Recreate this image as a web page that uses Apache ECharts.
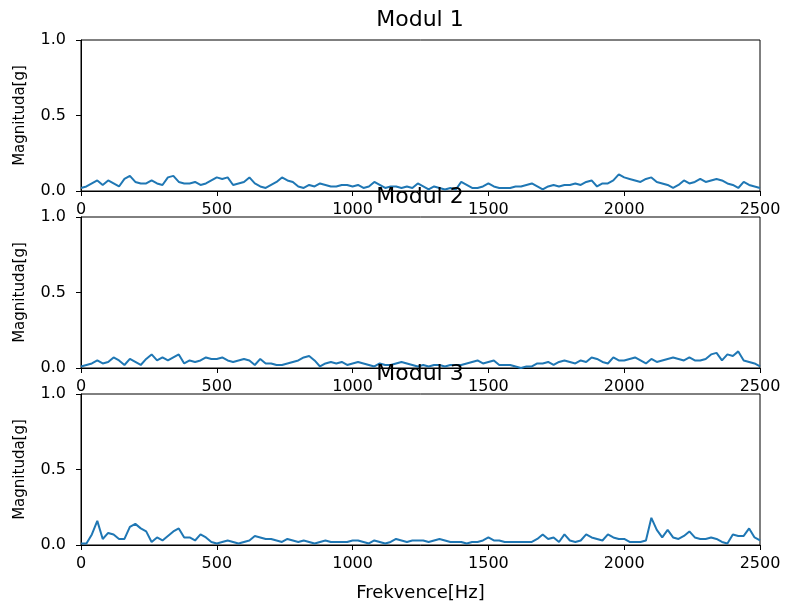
<!DOCTYPE html>
<html>
<head>
<meta charset="utf-8">
<title>Modul 1-3</title>
<script src="https://cdn.jsdelivr.net/npm/echarts@6/dist/echarts.min.js"></script>
<style>
	html, body {margin: 0; padding: 0; background: #fff;}
	#result {width: 785px; height: 607px;}
</style>
</head>
<body>
<div id="result"></div>
<script>
// spectrum step in Hz, values every 20 Hz from 0 to 2500
var freqStep = 20;
var freqMax = 2500;
var xTicks = [0, 500, 1000, 1500, 2000, 2500];
var yTicks = [0.0, 0.5, 1.0];
var titles = ['Modul 1', 'Modul 2', 'Modul 3'];

var modul1 = [0.02,0.03,0.05,0.07,0.04,0.07,0.05,0.03,0.08,0.10,
	0.06,0.05,0.05,0.07,0.05,0.04,0.09,0.10,0.06,0.05,
	0.05,0.06,0.04,0.05,0.07,0.09,0.08,0.09,0.04,0.05,
	0.06,0.09,0.05,0.03,0.02,0.04,0.06,0.09,0.07,0.06,
	0.03,0.02,0.04,0.03,0.05,0.04,0.03,0.03,0.04,0.04,
	0.03,0.04,0.02,0.03,0.06,0.04,0.02,0.03,0.03,0.02,
	0.03,0.02,0.05,
	0.03,0.01,0.03,0.02,0.01,0.02,0.01,0.06,0.04,0.02,
	0.02,0.03,0.05,0.03,0.02,0.02,0.02,0.03,0.03,0.04,
	0.05,0.03,0.01,0.03,0.04,0.03,0.04,0.04,0.05,0.04,
	0.06,0.07,0.03,0.05,0.05,0.07,0.11,0.09,0.08,0.07,
	0.06,0.08,0.09,0.06,0.05,0.04,0.02,0.04,0.07,0.05,
	0.06,0.08,0.06,0.07,0.08,0.07,0.05,0.04,0.02,0.06,
	0.04,0.03,0.02];

var modul2 = [0.01,0.02,0.03,0.05,0.03,0.04,0.07,0.05,0.02,0.06,
	0.04,0.02,0.06,0.09,0.05,0.07,0.05,0.07,0.09,0.03,
	0.05,0.04,0.05,0.07,0.06,0.06,0.07,0.05,0.04,0.05,
	0.06,0.05,0.02,0.06,0.03,0.03,0.02,0.02,0.03,0.04,
	0.05,0.07,0.08,0.05,0.01,0.03,0.04,0.03,0.04,0.02,
	0.03,0.04,0.03,0.02,0.01,0.03,0.02,0.02,0.03,0.04,
	0.03,0.02,0.01,
	0.02,0.01,0.02,0.02,0.01,0.02,0.02,0.02,0.03,0.04,
	0.05,0.03,0.04,0.05,0.02,0.02,0.02,0.01,0.00,0.01,
	0.01,0.03,0.03,0.04,0.02,0.04,0.05,0.04,0.03,0.05,
	0.04,0.07,0.06,0.04,0.03,0.07,0.05,0.05,0.06,0.07,
	0.05,0.03,0.06,0.04,0.05,0.06,0.07,0.06,0.05,0.07,
	0.05,0.05,0.06,0.09,0.10,0.05,0.09,0.08,0.11,0.05,
	0.04,0.03,0.01];

var modul3 = [0.01,0.01,0.07,0.16,0.04,0.08,0.07,0.04,0.04,0.12,
	0.14,0.11,0.09,0.02,0.05,0.03,0.06,0.09,0.11,0.05,
	0.05,0.03,0.07,0.05,0.02,0.01,0.02,0.03,0.02,0.01,
	0.02,0.03,0.06,0.05,0.04,0.04,0.03,0.02,0.04,0.03,
	0.02,0.03,0.02,0.01,0.02,0.03,0.02,0.02,0.02,0.02,
	0.03,0.03,0.02,0.01,0.03,0.02,0.01,0.02,0.04,0.03,
	0.02,0.03,0.03,
	0.03,0.02,0.03,0.04,0.03,0.02,0.02,0.02,0.01,0.02,
	0.02,0.03,0.05,0.03,0.03,0.02,0.02,0.02,0.02,0.02,
	0.02,0.04,0.07,0.04,0.05,0.02,0.07,0.03,0.02,0.03,
	0.07,0.05,0.04,0.03,0.07,0.05,0.04,0.04,0.02,0.02,
	0.02,0.03,0.18,0.10,0.05,0.10,0.05,0.04,0.06,0.09,
	0.05,0.04,0.04,0.05,0.04,0.02,0.01,0.07,0.06,0.06,
	0.11,0.05,0.03];

var moduls = [modul1, modul2, modul3];

// subplot boxes (px)
var gridLeft = 81, gridRight = 25, gridHeight = 151;
var gridTops = [40, 217, 394];
var lineColor = '#1f77b4';
var font = 'DejaVu Sans';

function toPairs(values){
	var out = [];
	for (var i = 0; i < values.length; i++){
		out.push([i * freqStep, values[i]]);
	}
	return out;
}

var grids = [], xAxes = [], yAxes = [], series = [], titleList = [];
for (var k = 0; k < 3; k++){
	grids.push({
		left: gridLeft, right: gridRight, top: gridTops[k], height: gridHeight,
		show: true, borderColor: '#000', borderWidth: 1, backgroundColor: 'transparent'
	});
	xAxes.push({
		gridIndex: k, type: 'value',
		min: xTicks[0], max: freqMax, interval: xTicks[1] - xTicks[0],
		axisLine: {show: true, lineStyle: {color: '#000', width: 1}},
		axisTick: {show: true, length: 5, lineStyle: {color: '#000'}},
		axisLabel: {color: '#000', fontSize: 16, fontFamily: font, margin: 11,
			formatter: function(v){ return String(v); }},
		splitLine: {show: false},
		name: k == 2 ? 'Frekvence[Hz]' : '',
		nameLocation: 'middle', nameGap: 39,
		nameTextStyle: {color: '#000', fontSize: 18, fontFamily: font}
	});
	yAxes.push({
		gridIndex: k, type: 'value',
		min: yTicks[0], max: yTicks[yTicks.length - 1], interval: yTicks[1] - yTicks[0],
		axisLine: {show: true, lineStyle: {color: '#000', width: 1}},
		axisTick: {show: true, length: 5, lineStyle: {color: '#000'}},
		axisLabel: {color: '#000', fontSize: 16, fontFamily: font, margin: 15,
			formatter: function(v){ return v.toFixed(1); }},
		splitLine: {show: false},
		name: 'Magnituda[g]',
		nameLocation: 'middle', nameGap: 53,
		nameTextStyle: {color: '#000', fontSize: 15, fontFamily: font}
	});
	series.push({
		type: 'line', xAxisIndex: k, yAxisIndex: k,
		data: toPairs(moduls[k]),
		showSymbol: false, symbol: 'none',
		lineStyle: {color: lineColor, width: 2},
		itemStyle: {color: lineColor},
		z: 3
	});
	titleList.push({
		text: titles[k], left: 415, top: gridTops[k] - 36, textAlign: 'center',
		textStyle: {color: '#000', fontSize: 22, fontWeight: 'normal', fontFamily: font},
		z: 10
	});
}

var myChart = echarts.init(document.getElementById('result'), null, {renderer: 'canvas'});
myChart.setOption({
	animation: false,
	backgroundColor: '#fff',
	title: titleList,
	grid: grids,
	xAxis: xAxes,
	yAxis: yAxes,
	series: series
});
</script>
</body>
</html>
